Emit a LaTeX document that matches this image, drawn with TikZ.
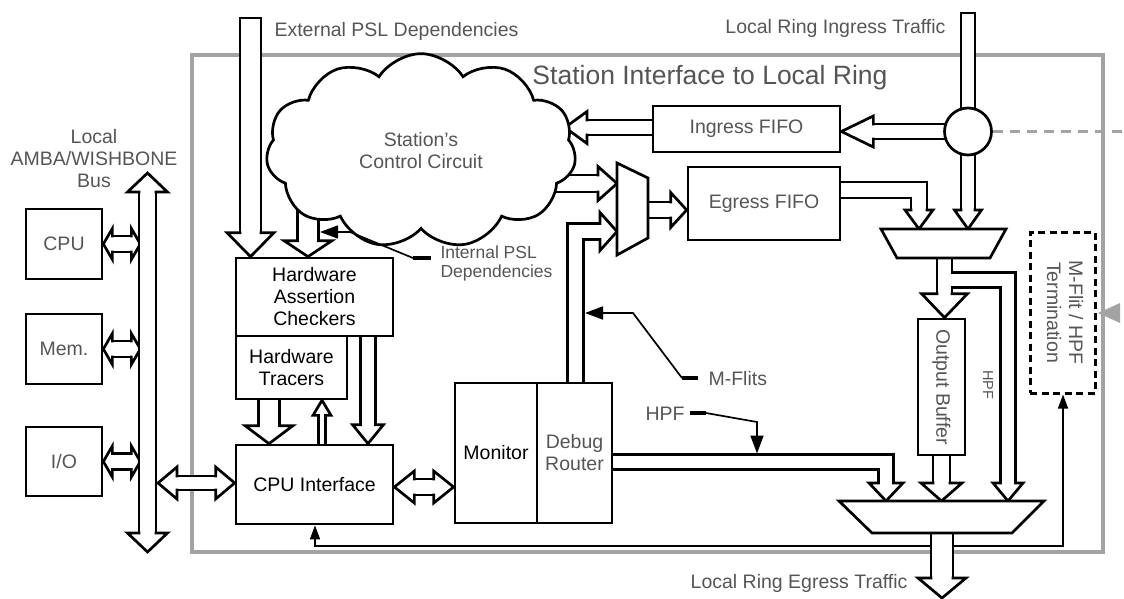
\documentclass[tikz,border=0pt]{standalone}
\usepackage{fontspec}
\usepackage{graphicx}
\setmainfont{Liberation Sans}
\usetikzlibrary{shapes.symbols}
\usetikzlibrary{arrows.meta}
\usetikzlibrary{backgrounds}

\definecolor{framegray}{HTML}{A3A3A3}
\definecolor{labelgray}{HTML}{555555}

\newcommand{\lbl}{\fontsize{19.5}{22}\selectfont}
\newcommand{\ttl}{\fontsize{26.5}{30}\selectfont}
\newcommand{\sml}{\fontsize{17.5}{19}\selectfont}
\newcommand{\tny}{\fontsize{14.5}{16}\selectfont}

% hollow arrow head: tip, angle, shaft half width, head half width, head length
\newcommand{\fathead}[5]{%
  \begin{scope}[shift={#1},rotate=#2]
    \filldraw[fill=white,line width=2.7pt,line cap=rect,line join=miter]
      (-#5,#3) -- (-#5,#4) -- (0,0) -- (-#5,-#4) -- (-#5,-#3);
  \end{scope}}

\tikzset{
  box/.style={draw,line width=2.7pt,fill=white,inner sep=0pt,align=center,font=\lbl},
  pipe/.style={line width=2.7pt,double=white,double distance=#1,line join=miter},
  mux/.style={draw,line width=2.7pt,fill=white,line join=miter},
  tag/.style={font=\lbl,text=labelgray},
  pointer/.style={line width=1.7pt,-{Triangle[length=18pt,width=13pt]}},
  stub/.style={line width=3.8pt}
}

\begin{document}
\begin{tikzpicture}[x=1pt,y=-1pt]
  \useasboundingbox (0,0) rectangle (1124,599);

  % draw the blocks
  \node[box,minimum width=76pt,minimum height=70pt,text=labelgray] (cpu) at (64,244) {CPU};
  \node[box,minimum width=76pt,minimum height=70pt,text=labelgray] (mem) at (64,349) {Mem.};
  \node[box,minimum width=76pt,minimum height=69pt,text=labelgray] (io) at (64,461.5) {I/O};
  \node[box,minimum width=157pt,minimum height=78pt] (hac) at (314.5,297) {Hardware\\Assertion\\Checkers};
  \node[box,minimum width=111pt,minimum height=63pt] (hwt) at (291.5,367.5) {Hardware\\Tracers};
  \node[box,minimum width=157pt,minimum height=79pt] (cpuif) at (314.5,484.5) {CPU Interface};
  \node[box,minimum width=82pt,minimum height=140pt] (mon) at (496,453) {Monitor};
  \node[box,minimum width=75pt,minimum height=140pt,text=labelgray] (dbg) at (574.5,453) {Debug\\Router};
  \node[box,minimum width=187pt,minimum height=46pt,text=labelgray] (ingress) at (746.5,129) {Ingress FIFO};
  \node[box,minimum width=152pt,minimum height=73pt,text=labelgray] (egress) at (764,203.5) {Egress FIFO};
  \node[box,minimum width=47pt,minimum height=136pt,text=labelgray] (outbuf) at (941.5,387) {\rotatebox{-90}{Output Buffer}};
  \node[box,line width=3pt,dash pattern=on 7pt off 4.5pt,minimum width=65pt,minimum height=161pt,text=labelgray]
    (term) at (1062.5,312.5) {\rotatebox{-90}{\begin{tabular}{@{}c@{}}M-Flit / HPF\\Termination\end{tabular}}};

  % the control circuit and the ring splitter
  \node[cloud,draw,line width=2.7pt,fill=white,cloud puffs=11,cloud puff arc=115,
    minimum width=310pt,minimum height=172pt,inner sep=0pt,align=center,font=\lbl,text=labelgray]
    (ctrl) at (421,151) {Station's\\Control Circuit};
  \node[circle,draw,line width=2.7pt,fill=white,minimum size=47pt,inner sep=0pt] (split) at (968,131.5) {};

  % draw the multiplexers
  \draw[mux] (617,163) -- (648,178) -- (648,238) -- (617,255) -- cycle;
  \draw[mux] (881,229) -- (1006,229) -- (990,258) -- (897,258) -- cycle;
  \draw[mux] (839,501) -- (1044,501) -- (1012,533) -- (872,533) -- cycle;

  % labels
  \node[font=\ttl,text=labelgray,anchor=base] (title) at (710,85) {Station Interface to Local Ring};
  \node[tag,anchor=base west] (extpsl) at (271,37) {External PSL Dependencies};
  \node[tag,anchor=base east] (ingtr) at (949,34) {Local Ring Ingress Traffic};
  \node[tag,anchor=base east] (egtr) at (911,588) {Local Ring Egress Traffic};
  \node[tag,align=center] (buslbl) at (94,159) {Local\\AMBA/WISHBONE\\Bus};
  \node[font=\sml,text=labelgray,align=left,anchor=north west] (intpsl) at (437,242) {Internal PSL\\Dependencies};
  \node[tag,anchor=base west] (mflits) at (705,385) {M-Flits};
  \node[tag,anchor=base west] (hpf) at (642,420) {HPF};
  \node[font=\tny,text=labelgray,rotate=-90] (hpfv) at (988,385) {HPF};

  % pointers
  \draw[stub] (413,258) -- (431,258);
  \draw[pointer] (413,258) -- (350,232) -- (320,232);
  \draw[stub] (682,378) -- (698,378);
  \draw[pointer] (682,378) -- (633,313) -- (585,313);
  \draw[stub] (690,413) -- (706,413);
  \draw[pointer] (706,413) -- (757,422) -- (757,453.5);

  \fill[framegray] (1098,313) -- (1120,303) -- (1120,323) -- cycle;

  \begin{pgfonlayer}{background}
    % draw the station frame
    \draw[framegray,line width=4pt] (192,55) rectangle (1103,552);
    \draw[framegray,line width=3.5pt,dash pattern=on 10pt off 7pt] (split.east) -- (1124,131.5);

    % feedback to cpu interface and termination
    \draw[line width=1.5pt,{Triangle[length=14pt,width=10pt]}-{Triangle[length=14pt,width=10pt]}]
      (cpuif.south -| 315,0) -- (315,546) -- (1063,546) -- (term.south -| 1063,0);

    % PSL dependencies
    \draw[pipe=18.3pt] (250.5,18) -- (250.5,234);
    \draw[line width=2.7pt,line cap=rect] (240,18) -- (261,18);
    \fathead{(hac.north -| 250.5,0)}{-90}{10.5}{23.5}{24}
    \draw[pipe=18.3pt] (308,170) -- (308,242);
    \fathead{(hac.north -| 308,0)}{-90}{10.5}{24}{16}

    % tracers, checkers and cpu interface
    \draw[pipe=18.3pt] (269,395) -- (269,427);
    \fathead{(cpuif.north -| 269,0)}{-90}{10.5}{24}{18}
    \draw[pipe=4.3pt] (322,450) -- (322,414);
    \fathead{(hwt.south -| 322,0)}{90}{3.5}{9}{15}
    \draw[pipe=12.3pt] (368,330) -- (368,426);
    \fathead{(cpuif.north -| 368,0)}{-90}{7.5}{15.5}{19}

    % local bus
    \foreach \dev in {cpu,mem,io} {
      \draw[pipe=13.3pt] ([xshift=9pt]\dev.east) -- ([xshift=28pt]\dev.east);
      \fathead{(\dev.east)}{180}{8}{15.5}{9}
      \fathead{([xshift=37pt]\dev.east)}{0}{8}{15.5}{9}
    }
    \draw[pipe=14.3pt] (147.5,192) -- (147.5,533);
    \fathead{(147.5,173)}{90}{8.5}{20}{19}
    \fathead{(147.5,552)}{-90}{8.5}{20}{19}
    \draw[pipe=11.3pt] (177,483) -- (217,483);
    \fathead{(158,483)}{180}{7}{16}{19}
    \fathead{(cpuif.west |- 0,483)}{0}{7}{16}{19}

    % cpu interface to monitor
    \draw[pipe=13.3pt] (413,487) -- (435,487);
    \fathead{(cpuif.east |- 0,487)}{180}{8}{16}{20}
    \fathead{(mon.west |- 0,487)}{0}{8}{16}{20}

    % into the egress path
    \draw[pipe=14.3pt] (530,183.5) -- (598,183.5);
    \fathead{(617,183.5)}{0}{8.5}{17}{19}
    \draw[pipe=13.3pt] (dbg.north -| 575.5,0) ++(0,7) -- (575.5,231.5) -- (600,231.5);
    \fathead{(617,231.5)}{0}{8}{19}{17}
    \draw[pipe=13.3pt] (640,210) -- (672,210);
    \fathead{(egress.west |- 0,210)}{0}{8}{17.5}{16}

    % ingress path
    \draw[pipe=12.3pt] (660,127.5) -- (587,127.5);
    \fathead{(565,127.5)}{180}{7.5}{16}{22}
    \draw[pipe=11.3pt] (968,13) -- (split.center);
    \draw[line width=2.7pt,line cap=rect] (961,13) -- (975,13);
    \draw[pipe=12.3pt] (split.center) -- (840+32,131.5);
    \fathead{(ingress.east |- 0,131.5)}{180}{7.5}{15.5}{32}
    \draw[pipe=11.3pt] (split.center) -- (968,210);
    \fathead{(968,229)}{-90}{7}{13.5}{19}
    \draw[pipe=13.3pt] (830,190) -- (919,190) -- (919,210);
    \fathead{(919,229)}{-90}{8}{14}{19}

    % ring output
    \draw[pipe=12.3pt] (944.5,250) -- (944.5,295);
    \fathead{(outbuf.north -| 944.5,0)}{-90}{7.5}{23}{24}
    \draw[pipe=12.3pt] (950.5,280) -- (1008,280) -- (1008,483);
    \fathead{(1008,501)}{-90}{7.5}{15}{18}
    \draw[pipe=14.3pt] (941.5,450) -- (941.5,483);
    \fathead{(941.5,501)}{-90}{8.5}{20.5}{18}
    \draw[pipe=12.3pt] (605,462) -- (886,462) -- (886,483);
    \fathead{(886,501)}{-90}{7.5}{17}{18}
    \draw[pipe=19.3pt] (942,525) -- (942,578);
    \fathead{(942,598)}{-90}{11}{24}{20}
  \end{pgfonlayer}
\end{tikzpicture}
\end{document}
